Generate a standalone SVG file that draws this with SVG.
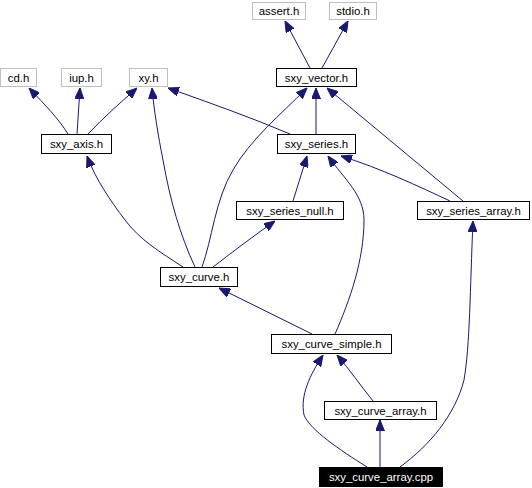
<svg xmlns="http://www.w3.org/2000/svg" width="532" height="488" viewBox="0 0 532 488">
<defs>
<style>
.n rect{fill:#fff;stroke:#000;stroke-width:1}
.g rect{fill:#fff;stroke:#bfbfbf;stroke-width:1}
text{font-family:"Liberation Sans",Arial,sans-serif;font-size:11.4px;text-anchor:middle;fill:#000}
.e path{fill:none;stroke:#191970;stroke-width:1;marker-end:url(#a)}
.k rect{fill:#000;stroke:#000}
.k text{fill:#fff}
</style>
<marker id="a" viewBox="0 0 11 9" refX="11" refY="4.5" markerWidth="11" markerHeight="9" markerUnits="userSpaceOnUse" orient="auto">
<path d="M0,0 L11,4.5 L0,9 Z" fill="#191970" stroke="#191970"/>
</marker>
</defs>
<rect width="532" height="488" fill="#fff"/>
<g class="e" id="edges">
<path d="M310,68 L285,21"/>
<path d="M322,68 L348,21"/>
<path d="M68,134 C58,118 46,106 29,88"/>
<path d="M77,134 L80,88"/>
<path d="M88,134 C104,117 120,103 137,88"/>
<path d="M290,134 C250,117 210,103 168,88"/>
<path d="M316,134 L316,88"/>
<path d="M463,201 L327,88"/>
<path d="M183,267 C160,252 140,240 125,220 C110,200 96,180 87,156"/>
<path d="M195,267 C180,235 170,200 163,160 C158,135 154,110 152,88"/>
<path d="M202,267 C212,240 215,200 233,170 C250,140 280,115 307,88"/>
<path d="M213,267 C235,250 255,235 275,221"/>
<path d="M293,201 L307,156"/>
<path d="M450,201 C420,187 380,168 341,156"/>
<path d="M335,334 C350,300 364,260 364,220 C364,195 345,180 328,156"/>
<path d="M312,334 L219,288"/>
<path d="M373,401 C360,385 350,370 337,355"/>
<path d="M367,467 C340,450 310,430 304,415 C300,395 310,375 323,355"/>
<path d="M380,467 L380,420"/>
<path d="M400,467 C430,445 455,415 464,380 C470,345 470,290 473,221"/>
</g>
<g id="assert" class="g"><rect x="252.5" y="2.5" width="53" height="17"/><text x="279" y="15">assert.h</text></g>
<g id="stdio" class="g"><rect x="329.5" y="2.5" width="47" height="17"/><text x="353" y="15">stdio.h</text></g>
<g id="cd" class="g"><rect x="0.5" y="68.5" width="36" height="18"/><text x="18.5" y="82">cd.h</text></g>
<g id="iup" class="g"><rect x="61.5" y="68.5" width="40" height="18"/><text x="81.5" y="82">iup.h</text></g>
<g id="xy" class="g"><rect x="129.5" y="68.5" width="38" height="18"/><text x="148.5" y="82">xy.h</text></g>
<g id="sxy_vector" class="n"><rect x="276.5" y="68.5" width="80" height="18"/><text x="316.5" y="82">sxy_vector.h</text></g>
<g id="sxy_axis" class="n"><rect x="41.5" y="134.5" width="70" height="19"/><text x="76.5" y="148">sxy_axis.h</text></g>
<g id="sxy_series" class="n"><rect x="277.5" y="134.5" width="78" height="19"/><text x="316.5" y="148">sxy_series.h</text></g>
<g id="sxy_series_null" class="n"><rect x="236.5" y="201.5" width="107" height="18"/><text x="290" y="215">sxy_series_null.h</text></g>
<g id="sxy_series_array" class="n"><rect x="417.5" y="201.5" width="112" height="18"/><text x="473.5" y="215">sxy_series_array.h</text></g>
<g id="sxy_curve" class="n"><rect x="160.5" y="267.5" width="77" height="19"/><text x="199" y="281">sxy_curve.h</text></g>
<g id="sxy_curve_simple" class="n"><rect x="271.5" y="334.5" width="120" height="19"/><text x="331.5" y="348">sxy_curve_simple.h</text></g>
<g id="sxy_curve_array" class="n"><rect x="324.5" y="401.5" width="112" height="18"/><text x="380.5" y="415">sxy_curve_array.h</text></g>
<g id="sxy_curve_array_cpp" class="k"><rect x="319.5" y="467.5" width="123" height="19"/><text x="381" y="481">sxy_curve_array.cpp</text></g>
</svg>
